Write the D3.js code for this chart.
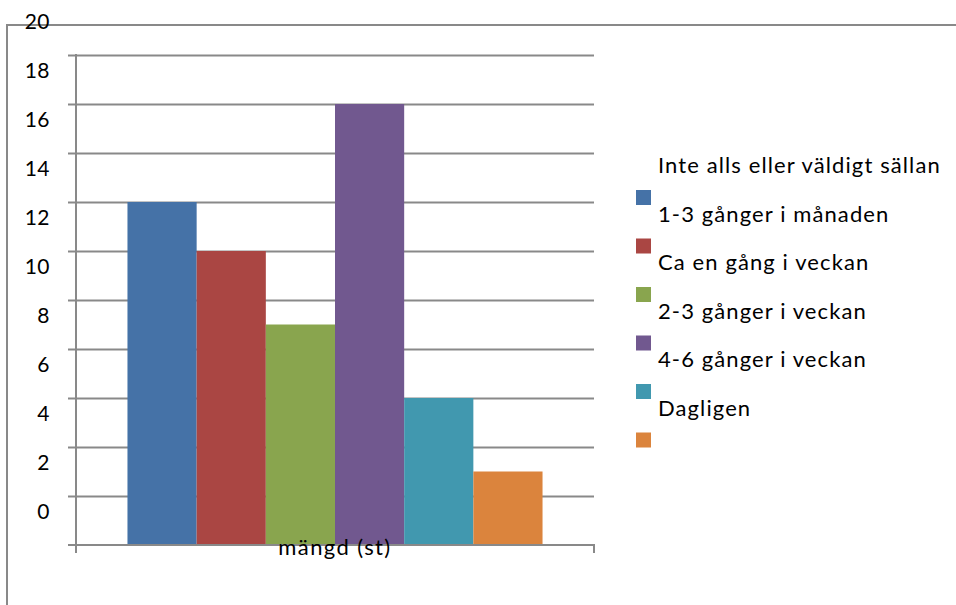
<!DOCTYPE html>
<html>
<head>
<meta charset="utf-8">
<script src="https://cdn.jsdelivr.net/npm/d3@7"></script>
<style>
  html, body { margin: 0; padding: 0; background: #fff; }
  svg { display: block; font-family: Lato, "Open Sans", sans-serif; }
</style>
</head>
<body>
<svg id="chart" width="956" height="605"></svg>
<script>
// Single category, six frequency series
const categories = ["mängd (st)"];
const seriesNames = [
  "Inte alls eller väldigt sällan",
  "1-3 gånger i månaden",
  "Ca en gång i veckan",
  "2-3 gånger i veckan",
  "4-6 gånger i veckan",
  "Dagligen"
];
const seriesValues = [12, 10, 7, 16, 4, 1];
const seriesColors = ["#4572A7", "#AA4643", "#89A54E", "#71588F", "#4198AF", "#DB843D"];
const yTickLabels = [0, 2, 4, 6, 8, 10, 12, 14, 16, 18, 20];
const yGridValues = [0, 2, 4, 6, 8, 10, 12, 14, 16, 18];

const svg = d3.select("#chart");
const gray = "#898989";

const plot = { left: 76, right: 594 };
const y = d3.scaleLinear().domain([-2, 20]).range([545, 6]);
const baseY = y(-2);
const topY = y(18);

const x0 = d3.scaleBand().domain(categories).range([plot.left, plot.right])
  .paddingInner(0).paddingOuter(0.124);
const x1 = d3.scaleBand().domain(seriesNames).range([0, x0.bandwidth()]).padding(0);

// outer frame (top and left edges)
svg.append("path")
  .attr("d", `M7,605 V25 H956`)
  .attr("fill", "none").attr("stroke", gray).attr("stroke-width", 2);

// horizontal gridlines with left tick stubs
const grid = svg.append("g").attr("transform", `translate(${plot.left},0)`)
  .call(d3.axisLeft(y).tickValues(yGridValues).tickFormat("").tickSize(-(plot.right - plot.left)).tickSizeOuter(0));
grid.select(".domain").remove();
grid.selectAll(".tick line")
  .attr("x1", -8)
  .attr("stroke", gray).attr("stroke-width", 2);

// bars
svg.append("g").selectAll("rect")
  .data(seriesValues.map((v, i) => ({ name: seriesNames[i], value: v, color: seriesColors[i] })))
  .join("rect")
  .attr("x", d => x0(categories[0]) + x1(d.name))
  .attr("width", x1.bandwidth())
  .attr("y", d => y(d.value))
  .attr("height", d => baseY - y(d.value))
  .attr("fill", d => d.color);

// y axis line
svg.append("line")
  .attr("x1", plot.left).attr("x2", plot.left)
  .attr("y1", topY - 1).attr("y2", baseY + 8)
  .attr("stroke", gray).attr("stroke-width", 2);

// x axis
const xAxis = svg.append("g").attr("transform", `translate(0,${baseY})`);
xAxis.append("line")
  .attr("x1", plot.left - 8).attr("x2", plot.right + 1)
  .attr("stroke", gray).attr("stroke-width", 2);
xAxis.selectAll("line.edge").data([plot.left, plot.right]).join("line")
  .attr("class", "edge")
  .attr("x1", d => d).attr("x2", d => d).attr("y1", 0).attr("y2", 8)
  .attr("stroke", gray).attr("stroke-width", 2);
xAxis.selectAll("text").data(categories).join("text")
  .attr("x", d => x0(d) + x0.bandwidth() / 2)
  .attr("y", 10)
  .attr("text-anchor", "middle")
  .attr("font-size", 22)
  .attr("letter-spacing", 1.4)
  .attr("fill", "#000")
  .text(d => d);

// y tick labels
const yLabels = svg.append("g").attr("transform", `translate(${plot.left},0)`)
  .call(d3.axisLeft(y).tickValues(yTickLabels).tickSize(0).tickPadding(26));
yLabels.select(".domain").remove();
yLabels.selectAll("text")
  .attr("font-family", "Lato, 'Open Sans', sans-serif")
  .attr("font-size", 21)
  .attr("letter-spacing", 0.5)
  .attr("fill", "#000")
  .attr("dy", "0.32em")
  .attr("transform", "translate(0,16)");

// legend
const legend = svg.append("g");
const rowStep = 48.5;
const items = legend.selectAll("g").data(seriesNames).join("g")
  .attr("transform", (d, i) => `translate(636,${190 + i * rowStep})`);
items.append("rect")
  .attr("width", 15).attr("height", 15)
  .attr("fill", (d, i) => seriesColors[i]);
items.append("text")
  .attr("x", 22).attr("y", -17)
  .attr("font-size", 22)
  .attr("letter-spacing", 1.1)
  .attr("fill", "#000")
  .text(d => d);
</script>
</body>
</html>
